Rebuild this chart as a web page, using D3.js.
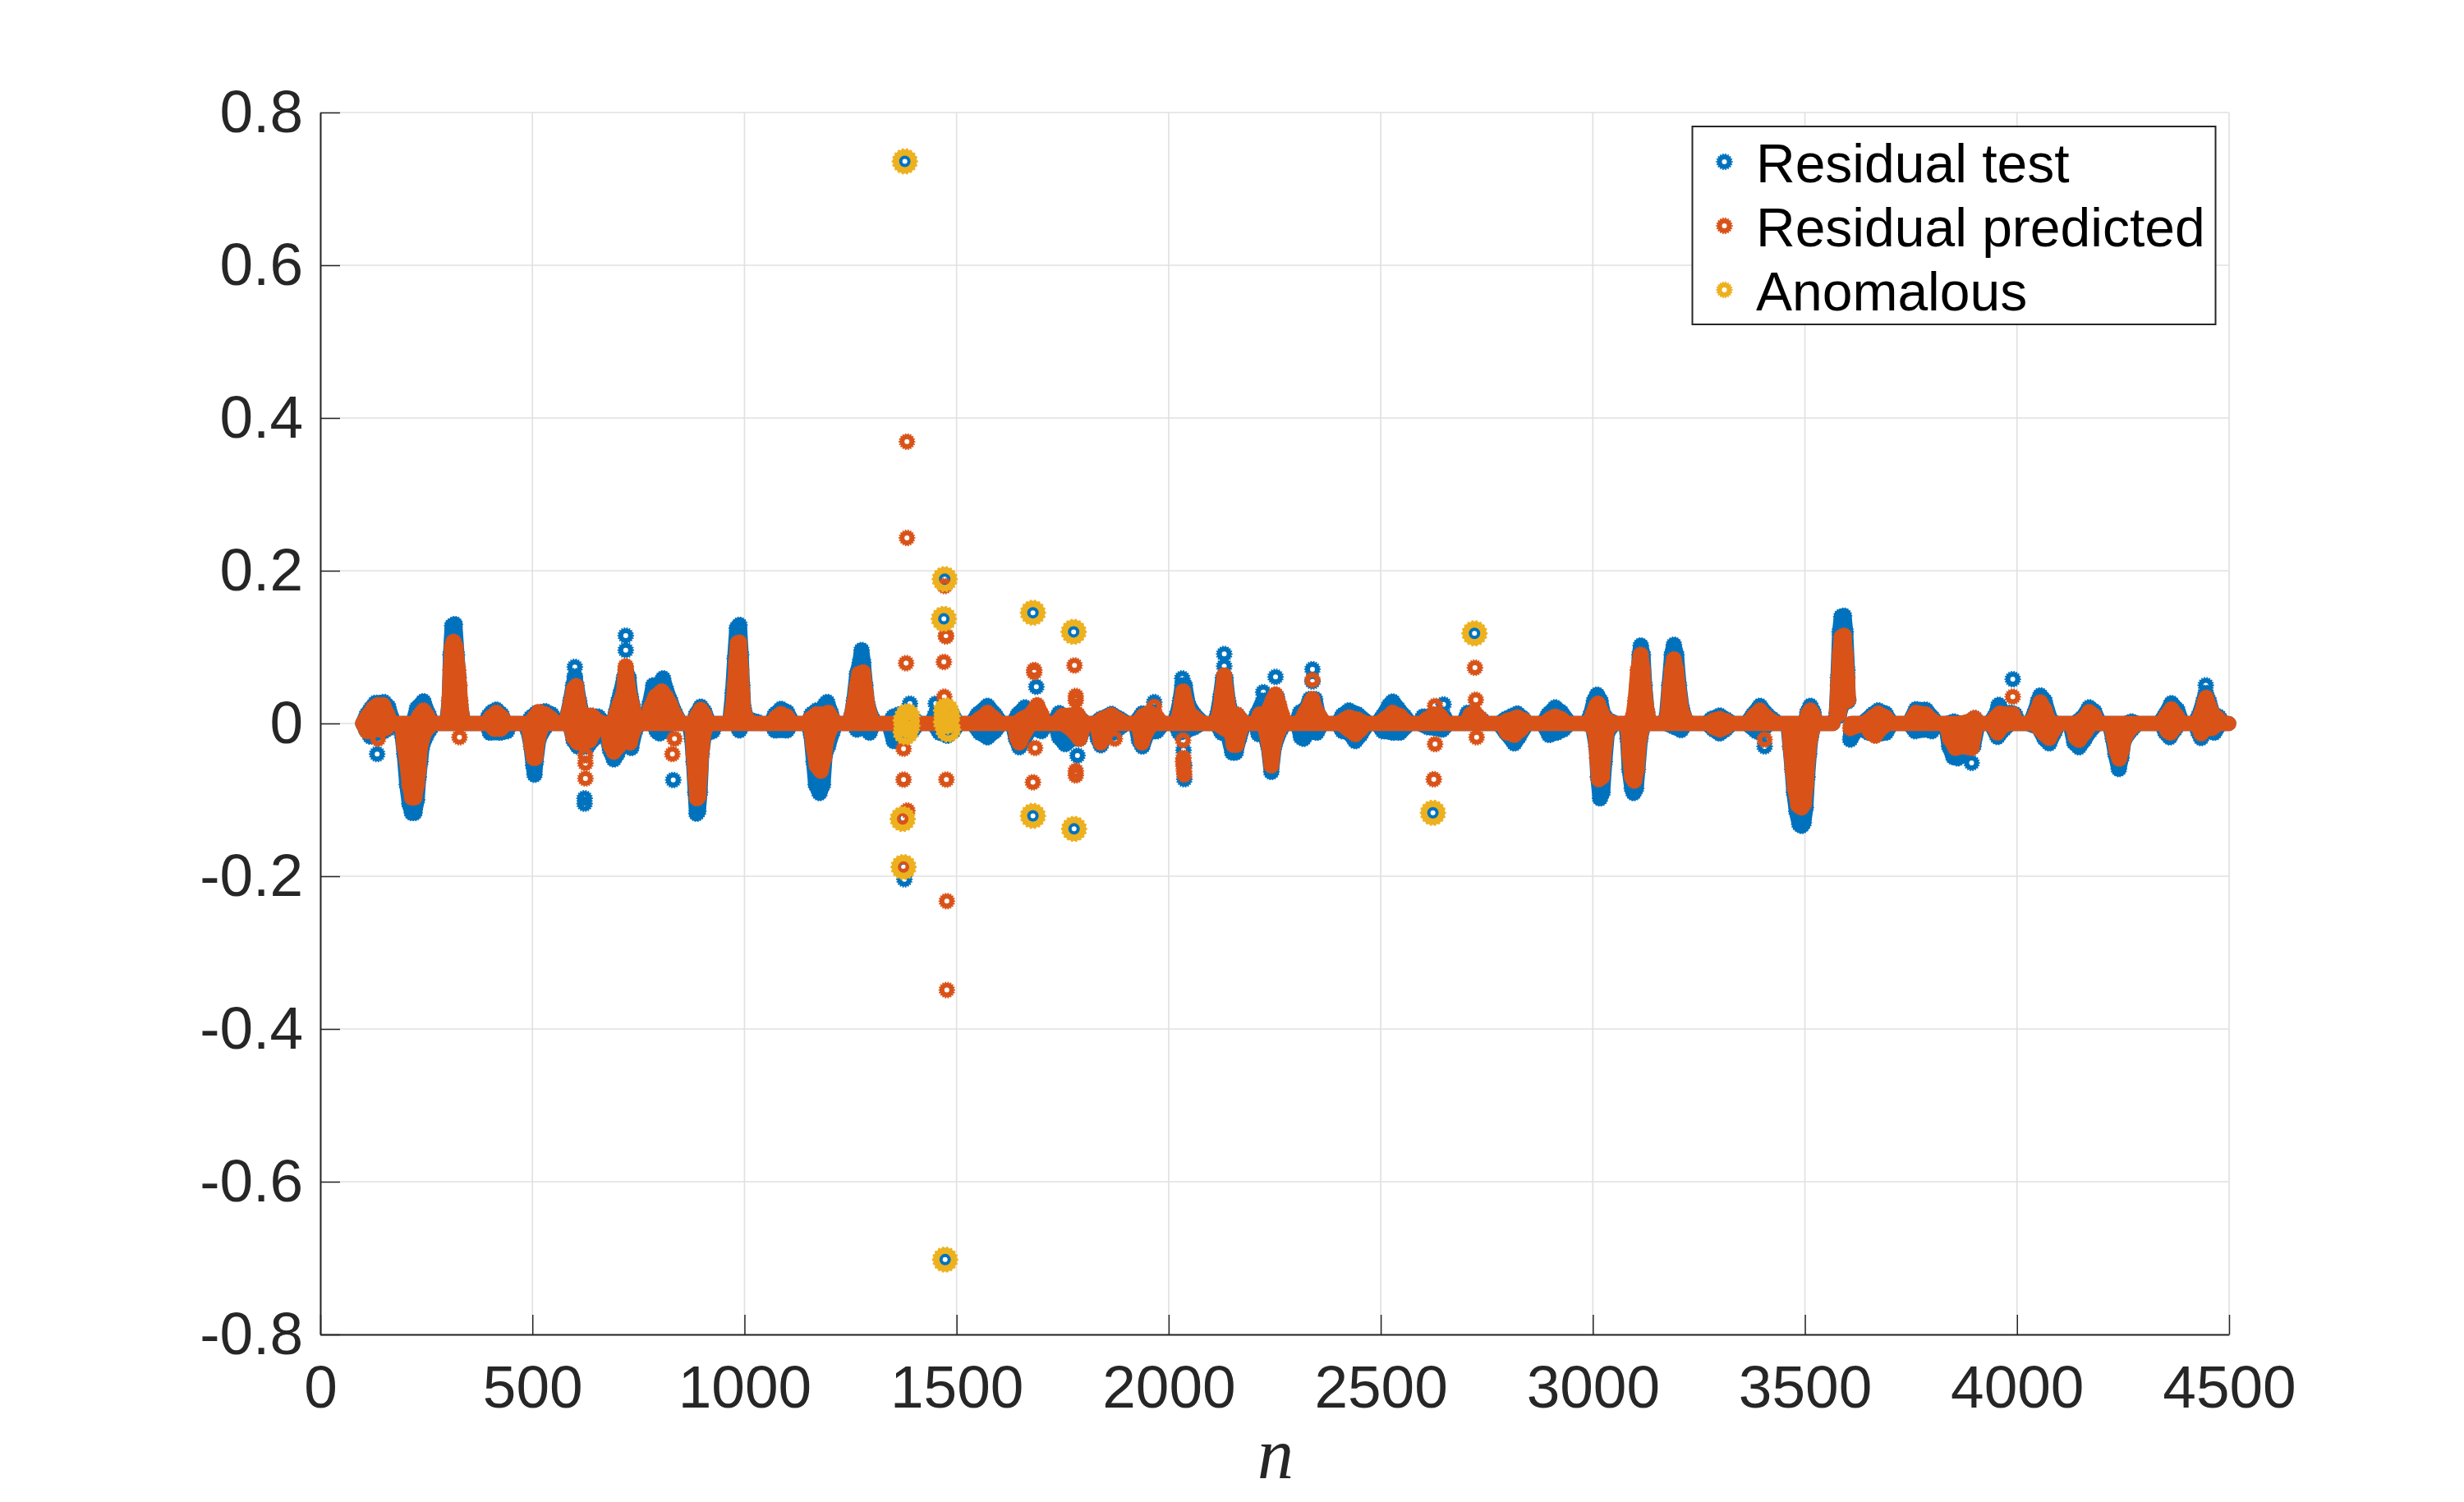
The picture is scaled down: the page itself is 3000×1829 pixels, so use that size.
<!DOCTYPE html>
<html>
<head>
<meta charset="utf-8">
<script src="https://cdn.jsdelivr.net/npm/d3@7"></script>
<style>
    html, body { margin: 0; padding: 0; background: #fff; }
    svg { display: block; }
</style>
</head>
<body>
<div id="chart"></div>
<script>
var xTicks = [0, 500, 1000, 1500, 2000, 2500, 3000, 3500, 4000, 4500];
var yTicks = [-0.8, -0.6, -0.4, -0.2, 0, 0.2, 0.4, 0.6, 0.8];
var yLabels = ["-0.8", "-0.6", "-0.4", "-0.2", "0", "0.2", "0.4", "0.6", "0.8"];
var legendLabels = ["Residual test", "Residual predicted", "Anomalous"];
var colors = ["#0072BD", "#D95319", "#EDB120"];

// Envelope of the dense residual test cloud, [n, value]
var testUpper = [[100,0],[110,.012],[120,.02],[130,.027],[150,.028],[160,.022],[170,.005],[178,0],
    [218,0],[228,.02],[243,.029],[255,.012],[265,0],
    [298,0],[304,.03],[307,.09],[311,.128],[317,.13],[322,.09],[326,.06],[330,.025],[338,0],
    [388,0],[397,.01],[405,.015],[415,.018],[427,.012],[437,0],
    [488,0],[497,.008],[510,.014],[530,.016],[545,.012],[557,0],
    [575,0],[582,.01],[590,.03],[596,.05],[600,.06],[604,.05],[610,.03],[618,.01],[640,.01],[655,.009],[670,0],
    [690,0],[697,.015],[703,.03],[708,.04],[716,.06],[720,.07],[727,.06],[732,.035],[742,.012],[750,0],
    [770,0],[776,.025],[785,.05],[795,.045],[808,.059],[815,.045],[825,.03],[835,.015],[850,0],
    [880,0],[886,.012],[897,.022],[905,.016],[917,0],
    [958,0],[966,.005],[972,.04],[977,.085],[982,.125],[988,.129],[992,.09],[995,.05],[998,.02],[1005,.007],[1030,.002],[1040,0],
    [1062,0],[1072,.012],[1086,.019],[1100,.015],[1115,0],
    [1150,0],[1158,.012],[1170,.017],[1180,.014],[1190,.025],[1195,.028],[1203,.015],[1212,0],
    [1245,0],[1252,.01],[1258,.03],[1265,.065],[1272,.08],[1276,.096],[1280,.08],[1285,.05],[1290,.025],[1300,.008],[1310,0],
    [1340,0],[1351,.009],[1365,.012],[1385,.012],[1400,.005],[1413,0],
    [1440,0],[1450,.012],[1470,.014],[1490,.012],[1503,0],
    [1535,0],[1550,.012],[1573,.023],[1590,.012],[1606,0],
    [1632,0],[1645,.012],[1661,.021],[1680,.015],[1700,.01],[1710,0],
    [1728,0],[1742,.0135],[1760,.008],[1785,.01],[1805,0],
    [1825,0],[1840,.006],[1865,.0125],[1885,.006],[1904,0],
    [1920,0],[1938,.013],[1955,.012],[1966,.01],[1985,0],
    [2012,0],[2020,.012],[2027,.03],[2032,.05],[2038,.05],[2046,.025],[2060,.012],[2082,0],
    [2108,0],[2115,.012],[2122,.035],[2128,.06],[2134,.06],[2140,.03],[2148,.012],[2161,.0115],[2180,0],
    [2200,0],[2208,.012],[2223,.03],[2235,.025],[2245,.035],[2255,.035],[2265,.012],[2274,0],
    [2300,0],[2310,.0145],[2325,.02],[2333,.032],[2345,.032],[2352,.012],[2368,0],
    [2398,0],[2410,.011],[2425,.017],[2445,.012],[2472,0],
    [2491,0],[2505,.01],[2520,.024],[2528,.0287],[2540,.02],[2555,.01],[2570,0],
    [2590,0],[2600,.009],[2620,.009],[2635,.012],[2648,.01],[2660,0],
    [2694,0],[2705,.014],[2720,.012],[2738,.005],[2748,0],
    [2778,0],[2795,.006],[2810,.01],[2822,.013],[2835,.007],[2847,0],
    [2882,0],[2895,.012],[2911,.021],[2925,.015],[2946,0],
    [2985,0],[2995,.012],[3003,.03],[3010,.0376],[3018,.03],[3025,.012],[3035,.005],[3055,0],
    [3082,0],[3095,.004],[3100,.015],[3105,.05],[3110,.09],[3113,.102],[3118,.09],[3122,.05],[3128,.015],[3134,0],
    [3168,0],[3174,.01],[3180,.05],[3186,.09],[3191,.103],[3197,.09],[3203,.05],[3210,.02],[3218,.006],[3226,0],
    [3268,0],[3280,.006],[3299,.0104],[3315,.005],[3330,0],
    [3362,0],[3378,.012],[3394,.023],[3410,.012],[3425,.005],[3438,0],
    [3500,0],[3506,.015],[3513,.023],[3520,.015],[3526,0],[3566,0]];
var testLower = [[100,0],[108,-.008],[118,-.017],[135,-.012],[150,-.01],[162,-.006],[170,0],
    [188,0],[193,-.015],[198,-.04],[204,-.08],[210,-.105],[216,-.117],[222,-.117],[228,-.1],[232,-.07],[236,-.05],[240,-.03],[248,-.018],[258,-.008],[268,0],
    [392,0],[400,-.012],[425,-.012],[440,-.01],[448,0],
    [480,0],[490,-.01],[497,-.03],[502,-.055],[505,-.067],[508,-.05],[515,-.02],[530,-.005],[540,0],
    [585,0],[590,-.005],[597,-.022],[607,-.03],[618,-.03],[630,-.03],[645,-.02],[655,-.005],[670,0],
    [668,0],[675,-.015],[683,-.035],[692,-.047],[700,-.04],[712,-.022],[725,-.025],[733,-.032],[742,-.01],[750,0],
    [785,0],[793,-.01],[800,-.013],[815,-.008],[825,0],
    [870,0],[876,-.02],[880,-.05],[884,-.09],[887,-.118],[891,-.115],[895,-.09],[899,-.04],[905,-.015],[925,-.01],[932,0],
    [978,0],[988,-.009],[998,0],
    [1062,0],[1072,-.009],[1100,-.009],[1112,0],
    [1150,0],[1157,-.015],[1163,-.05],[1168,-.08],[1177,-.091],[1185,-.08],[1190,-.04],[1197,-.03],[1207,-.012],[1215,0],
    [1258,0],[1265,-.008],[1280,-.004],[1295,-.012],[1305,0],
    [1340,0],[1352,-.023],[1370,-.015],[1395,-.01],[1410,0],
    [1445,0],[1460,-.012],[1478,-.016],[1492,-.01],[1505,0],
    [1538,0],[1555,-.012],[1573,-.018],[1590,-.01],[1605,0],
    [1632,0],[1640,-.02],[1648,-.031],[1660,-.02],[1675,-.005],[1700,-.01],[1712,0],
    [1732,0],[1742,-.018],[1756,-.027],[1772,-.02],[1790,-.02],[1805,0],
    [1825,0],[1833,-.02],[1840,-.0285],[1852,-.015],[1870,-.012],[1885,-.005],[1900,0],
    [1922,0],[1930,-.022],[1938,-.03],[1950,-.012],[1972,-.01],[1988,0],
    [2014,0],[2025,-.012],[2040,-.01],[2060,-.005],[2078,0],
    [2112,0],[2125,-.012],[2140,-.015],[2150,-.038],[2158,-.038],[2166,-.02],[2178,0],
    [2205,0],[2212,-.014],[2225,-.012],[2235,-.03],[2242,-.0634],[2249,-.03],[2262,-.01],[2274,0],
    [2304,0],[2312,-.018],[2318,-.02],[2330,-.01],[2349,-.012],[2362,0],
    [2398,0],[2410,-.01],[2425,-.012],[2440,-.023],[2452,-.015],[2470,0],
    [2491,0],[2505,-.01],[2528,-.012],[2545,-.012],[2568,0],
    [2590,0],[2612,-.005],[2645,-.008],[2660,0],
    [2778,0],[2795,-.012],[2815,-.026],[2825,-.018],[2845,0],
    [2882,0],[2897,-.015],[2915,-.012],[2930,-.008],[2946,0],
    [2985,0],[3000,-.005],[3008,-.03],[3012,-.07],[3017,-.098],[3023,-.09],[3028,-.05],[3034,-.012],[3050,0],
    [3078,0],[3082,-.02],[3086,-.06],[3092,-.085],[3096,-.091],[3102,-.085],[3106,-.06],[3112,-.02],[3118,-.005],[3128,0],
    [3172,0],[3190,-.004],[3208,-.0086],[3220,0],
    [3268,0],[3285,-.008],[3299,-.013],[3312,-.008],[3328,0],
    [3362,0],[3385,-.01],[3395,-.012],[3415,0],
    [3460,0],[3465,-.03],[3470,-.06],[3474,-.09],[3480,-.115],[3487,-.132],[3492,-.134],[3497,-.13],[3502,-.11],[3506,-.07],[3510,-.04],[3514,-.018],[3520,-.005],[3530,0],[3566,0]];
var testUpperEnd = [[3609,0],[3635,0],[3660,.012],[3673,.017],[3690,.013],[3705,0],
    [3745,0],[3762,.0186],[3785,.018],[3800,.008],[3812,0],
    [3832,0],[3851,.0025],[3870,0],[3885,.002],[3900,.007],[3912,0],
    [3935,0],[3950,.012],[3957,.024],[3970,.012],[3985,.014],[3995,.012],[4005,0],
    [4030,0],[4042,.015],[4050,.03],[4055,.0366],[4065,.03],[4078,.006],[4090,0],
    [4135,0],[4155,.008],[4170,.021],[4182,.016],[4195,0],
    [4255,0],[4270,.0025],[4285,0],
    [4335,0],[4350,.012],[4364,.0265],[4378,.018],[4390,0],
    [4418,0],[4430,.012],[4440,.03],[4445,.04],[4452,.03],[4462,.012],[4475,.009],[4488,0],[4499,0]];
var testLowerEnd = [[3609,0],[3607,-.021],[3625,-.005],[3650,-.012],[3666,-.015],[3691,-.012],[3705,0],
    [3745,0],[3760,-.01],[3785,-.008],[3799,-.01],[3812,0],
    [3832,0],[3840,-.03],[3850,-.044],[3860,-.0455],[3875,-.04],[3885,-.035],[3897,-.03],[3908,0],
    [3938,0],[3954,-.0175],[3968,-.008],[3985,0],
    [4025,0],[4050,-.005],[4065,-.02],[4076,-.026],[4088,-.012],[4098,0],
    [4125,0],[4135,-.025],[4146,-.031],[4158,-.022],[4172,-.01],[4190,0],
    [4218,0],[4226,-.02],[4232,-.04],[4240,-.0595],[4246,-.045],[4252,-.022],[4270,-.008],[4285,0],
    [4340,0],[4350,-.012],[4360,-.018],[4372,-.008],[4382,0],
    [4420,0],[4428,-.012],[4434,-.019],[4445,-.008],[4465,-.012],[4480,0],[4499,0]];

// The isolated column between the two band pieces around n = 3590
var testSpike = [[3574,.01],[3578,.06],[3582,.12],[3586,.14],[3592,.141],[3596,.12],[3600,.07],[3602,.03],[3600,.029],[3590,.03],[3580,.01]];
var predSpike = [[3575,.015],[3578,.05],[3582,.09],[3586,.113],[3592,.115],[3596,.09],[3600,.06],[3602,.032],[3600,.03],[3590,.04],[3580,.012]];

// Envelope of the dense residual predicted cloud, [n, value]
var predUpper = [[100,0],[112,.01],[125,.02],[135,.024],[148,.024],[158,.012],[168,0],
    [225,0],[233,.01],[243,.017],[252,.01],[262,0],
    [300,0],[304,.03],[307,.07],[310,.1],[314,.107],[319,.1],[325,.07],[328,.05],[330,.03],[336,0],
    [392,0],[402,.008],[415,.014],[428,.008],[435,0],
    [495,0],[505,.008],[515,.015],[530,.012],[545,.006],[552,0],
    [578,0],[580,.005],[590,.025],[597,.045],[603,.049],[608,.03],[615,.012],[640,.01],[650,.005],[665,0],
    [690,0],[697,.012],[705,.025],[715,.04],[720,.075],[725,.05],[732,.03],[742,.012],[748,0],
    [770,0],[778,.02],[790,.035],[805,.042],[815,.035],[825,.025],[835,.012],[850,0],
    [880,0],[888,.01],[897,.018],[905,.012],[915,0],
    [965,0],[972,.02],[977,.05],[980,.08],[984,.105],[988,.106],[992,.07],[995,.04],[998,.015],[1010,.003],[1025,0],
    [1065,0],[1075,.008],[1086,.0125],[1100,.009],[1112,0],
    [1152,0],[1155,.006],[1170,.012],[1185,.012],[1198,.014],[1207,.006],[1215,0],
    [1248,0],[1250,.005],[1258,.025],[1265,.05],[1270,.065],[1280,.067],[1286,.04],[1292,.018],[1300,.005],[1307,0],
    [1540,0],[1555,.006],[1573,.014],[1590,.006],[1600,0],
    [1640,0],[1655,.006],[1675,.012],[1690,.024],[1700,.012],[1708,0],
    [1732,0],[1750,.01],[1785,.012],[1800,0],
    [1828,0],[1845,.006],[1865,.011],[1885,.004],[1898,0],
    [1925,0],[1940,.01],[1955,.014],[1970,.01],[1985,0],
    [2018,0],[2025,.012],[2030,.028],[2034,.042],[2040,.028],[2048,.014],[2060,.008],[2080,0],
    [2112,0],[2120,.015],[2126,.04],[2131,.063],[2136,.04],[2144,.012],[2161,.0115],[2178,0],
    [2205,0],[2215,.012],[2230,.012],[2245,.03],[2252,.038],[2260,.025],[2268,.01],[2274,0],
    [2308,0],[2320,.012],[2335,.028],[2339,.032],[2345,.02],[2355,.01],[2368,0],
    [2400,0],[2415,.005],[2425,.008],[2445,.005],[2465,0],
    [2495,0],[2510,.006],[2528,.014],[2545,.01],[2565,0],
    [2595,0],[2610,.006],[2628,.012],[2640,.01],[2655,0],
    [2700,0],[2712,.012],[2722,.014],[2732,.008],[2745,0],
    [2785,0],[2800,.004],[2822,.008],[2838,.004],[2845,0],
    [2885,0],[2900,.006],[2911,.009],[2925,.006],[2940,0],
    [2990,0],[3000,.012],[3007,.022],[3012,.026],[3020,.015],[3028,.005],[3035,.004],[3050,0],
    [3086,0],[3095,.01],[3100,.03],[3106,.07],[3113,.09],[3118,.07],[3122,.04],[3128,.015],[3134,0],
    [3172,0],[3176,.01],[3180,.04],[3186,.07],[3191,.084],[3197,.07],[3203,.04],[3210,.015],[3218,.006],[3226,0],
    [3275,0],[3285,.004],[3299,.006],[3315,.003],[3325,0],
    [3365,0],[3380,.01],[3394,.017],[3410,.008],[3422,.003],[3436,0],
    [3502,0],[3507,.012],[3513,.017],[3519,.012],[3524,0],[3566,0]];
var predLower = [[100,0],[110,-.01],[125,-.008],[140,-.008],[155,-.006],[165,0],
    [192,0],[198,-.03],[204,-.05],[210,-.08],[216,-.097],[222,-.097],[228,-.08],[232,-.06],[236,-.03],[245,-.012],[255,-.005],[265,0],
    [398,0],[410,-.007],[425,-.007],[438,0],
    [490,0],[498,-.03],[503,-.045],[507,-.045],[513,-.02],[525,0],
    [588,0],[597,-.018],[607,-.025],[620,-.025],[635,-.022],[645,-.012],[655,0],
    [675,0],[683,-.028],[692,-.037],[703,-.03],[715,-.018],[730,-.025],[738,-.01],[748,0],
    [876,0],[880,-.04],[884,-.07],[888,-.098],[892,-.095],[896,-.06],[900,-.03],[905,-.01],[915,0],
    [1155,0],[1162,-.03],[1170,-.055],[1180,-.062],[1188,-.045],[1192,-.025],[1200,-.01],[1210,0],
    [1636,0],[1642,-.018],[1648,-.025],[1660,-.012],[1675,0],
    [1750,0],[1772,-.008],[1790,-.02],[1802,0],
    [1830,0],[1840,-.025],[1852,-.012],[1868,0],
    [1928,0],[1937,-.025],[1950,-.008],[1962,0],
    [2112,0],[2130,-.006],[2148,-.012],[2153,-.028],[2160,-.028],[2168,-.01],[2176,0],
    [2225,0],[2235,-.025],[2242,-.055],[2249,-.025],[2262,-.006],[2272,0],
    [2405,0],[2425,-.008],[2440,-.014],[2452,-.008],[2465,0],
    [2785,0],[2798,-.012],[2815,-.015],[2830,-.008],[2842,0],
    [2990,0],[3005,-.01],[3010,-.045],[3014,-.073],[3022,-.07],[3028,-.03],[3034,-.008],[3045,0],
    [3082,0],[3086,-.04],[3092,-.07],[3098,-.075],[3104,-.06],[3110,-.02],[3118,-.004],[3125,0],
    [3275,0],[3285,-.005],[3299,-.008],[3312,-.005],[3325,0],
    [3462,0],[3466,-.03],[3471,-.06],[3476,-.085],[3484,-.107],[3492,-.11],[3498,-.105],[3503,-.08],[3508,-.04],[3513,-.018],[3520,-.004],[3528,0],[3566,0]];
var predUpperEnd = [[3609,0],[3640,0],[3660,.008],[3673,.013],[3690,.008],[3703,0],
    [3745,0],[3762,.014],[3785,.012],[3800,.004],[3810,0],
    [3838,0],[3860,0],[3885,.002],[3900,.007],[3910,0],
    [3938,0],[3950,.008],[3960,.013],[3975,.012],[3990,.012],[4000,0],
    [4032,0],[4045,.014],[4055,.0276],[4065,.018],[4078,0],
    [4140,0],[4158,.006],[4170,.015],[4182,.01],[4192,0],
    [4340,0],[4352,.01],[4364,.0186],[4376,.01],[4388,0],
    [4422,0],[4434,.012],[4442,.028],[4446,.0337],[4452,.024],[4462,.012],[4475,.006],[4485,0],[4499,0]];
var predLowerEnd = [[3609,0],[3607,-.006],[3640,0],[3655,-.012],[3666,-.016],[3680,-.006],[3695,0],
    [3832,0],[3842,-.02],[3855,-.032],[3870,-.03],[3893,-.032],[3905,0],
    [3940,0],[3954,-.012],[3965,-.004],[3980,0],
    [4040,0],[4065,-.014],[4076,-.019],[4087,-.008],[4096,0],
    [4130,0],[4138,-.018],[4146,-.0215],[4160,-.012],[4175,0],
    [4220,0],[4228,-.018],[4234,-.035],[4241,-.046],[4247,-.035],[4254,-.018],[4270,-.005],[4285,0],
    [4345,0],[4355,-.01],[4362,-.012],[4372,-.005],[4382,0],
    [4424,0],[4434,-.013],[4445,-.006],[4460,-.006],[4475,0],[4499,0]];

// Points that stand alone outside the clouds
var testPoints = [[134,-.04],[720,.115],[720,.096],[600,.074],[600,.062],[623,-.098],[623,-.105],[832,-.074],
    [1378,.736],[1473,-.702],[1472,.189],[1470,.137],[1374,-.124],[1375,-.188],[1377,-.204],[1390,.026],[1451,.026],
    [1680,.145],[1776,.12],[1680,-.121],[1777,-.138],[1688,.048],[1785,-.042],[2721,.118],[2623,-.117],[2648,.025],
    [1966,.028],[2032,.059],[2035,-.035],[2037,-.073],[2037,-.055],[2131,.091],[2131,.075],[2223,.041],[2252,.061],[2242,-.048],
    [2339,.071],[2339,.055],[3893,-.0516],[3990,.058],[3405,-.03],[4445,.05],[3957,.024]];
var predPoints = [[136,-.02],[328,-.018],[1383,.369],[1383,.243],[1381,.079],[1470,.0806],[1475,.114],[1475,.115],[1472,.18],[1471,.035],
    [1375,-.0735],[1476,-.0735],[1477,-.349],[1477,-.2326],[1375,-.033],[1372,-.124],[1384,-.114],[1374,-.187],
    [625,-.042],[625,-.052],[625,-.072],[720,.071],[720,.059],[835,-.02],[830,-.04],
    [1683,.07],[1683,.067],[1778,.076],[1680,-.077],[1781,.036],[1781,.03],[1781,-.062],[1781,-.068],[1685,-.032],
    [1873,-.02],[2722,.073],[2724,.031],[2726,-.018],[2625,-.073],[2628,-.027],[2628,.023],[1966,.022],
    [2034,-.022],[2035,-.045],[2034,-.05],[2035,-.056],[2036,-.062],[2037,-.067],[2131,.05],[2242,-.036],[2242,-.045],[2339,.057],
    [3105,.029],[3405,-.021],[3990,.035],[3990,.01]];
var anomalousPoints = [[1378,.736],[1473,-.702],[1472,.189],[1470,.137],[1373,-.125],[1375,-.188],
    [1680,.145],[1776,.12],[1680,-.121],[1777,-.138],[2721,.118],[2623,-.117],
    [1384,.0095],[1380,.004],[1384,-.003],[1380,-.0115],
    [1475,.017],[1479,.01],[1475,.002],[1480,-.008]];

var width = 3000, height = 1829;
var left = 390, right = 2714, top_ = 137, bottom = 1625;
var ink = "#262626", gridColor = "#e0e0e0";
var fontSans = "'Liberation Sans', Arial, sans-serif";

var x = d3.scaleLinear().domain([0, 4500]).range([left, right]);
var y = d3.scaleLinear().domain([-0.8, 0.8]).range([bottom, top_]);

var svg = d3.select("#chart").append("svg").attr("width", width).attr("height", height);

// Ring marker with little teeth, like the rasterised MATLAB circles
function gear(outer, hole) {
    return {
        draw: function (context) {
            var teeth = 18, inner = outer - 1.3;
            for (var i = 0; i < teeth; i++) {
                var a = i / teeth * 2 * Math.PI, s = Math.PI / teeth;
                var pts = [[outer, a - s * 0.5], [outer, a + s * 0.5], [inner, a + s * 0.5], [inner, a + s * 1.5]];
                pts.forEach(function (p, j) {
                    var px = p[0] * Math.cos(p[1]), py = p[0] * Math.sin(p[1]);
                    if (i == 0 && j == 0) context.moveTo(px, py); else context.lineTo(px, py);
                });
            }
            context.closePath();
            context.moveTo(hole, 0);
            context.arc(0, 0, hole, 0, 2 * Math.PI);
            context.closePath();
        }
    };
}
var smallRing = d3.symbol().type(gear(10.2, 3));
var bigRing = d3.symbol().type(gear(16, 7));
var legendRing = d3.symbol().type(gear(10.2, 3));

// Grid
var grid = svg.append("g").attr("class", "grid");
grid.selectAll(".gx").data(xTicks).join("line")
    .attr("class", "gx")
    .attr("x1", function (d) { return x(d); }).attr("x2", function (d) { return x(d); })
    .attr("y1", top_).attr("y2", bottom);
grid.selectAll(".gy").data(yTicks).join("line")
    .attr("class", "gy")
    .attr("x1", left).attr("x2", right)
    .attr("y1", function (d) { return y(d); }).attr("y2", function (d) { return y(d); });
grid.selectAll("line").attr("stroke", gridColor).attr("stroke-width", 1.6);

var outline = d3.line().x(function (d) { return x(d[0]); }).y(function (d) { return y(d[1]); }).curve(d3.curveLinearClosed);

function drawSeries(pieces, points, color) {
    var g = svg.append("g");
    pieces.forEach(function (piece) {
        g.append("path")
            .attr("d", outline(piece))
            .attr("fill", color)
            .attr("stroke", color)
            .attr("stroke-width", 18.6)
            .attr("stroke-linejoin", "round");
    });
    // Markers on the envelope give the cloud its toothed edge
    var edge = d3.merge(pieces).filter(function (d) { return d[1] != 0; });
    g.selectAll(".edge").data(edge).join("path")
        .attr("class", "edge")
        .attr("transform", function (d) { return "translate(" + x(d[0]) + "," + y(d[1]) + ")"; })
        .attr("d", smallRing())
        .attr("fill", color);
    g.selectAll(".point").data(points).join("path")
        .attr("class", "point")
        .attr("transform", function (d) { return "translate(" + x(d[0]) + "," + y(d[1]) + ")"; })
        .attr("d", smallRing())
        .attr("fill", color)
        .attr("fill-rule", "evenodd");
}

function closeUp(upper, lower) {
    return upper.concat(lower.slice().reverse());
}

drawSeries([closeUp(testUpper, testLower), closeUp(testUpperEnd, testLowerEnd), testSpike], testPoints, colors[0]);
drawSeries([closeUp(predUpper, predLower), closeUp(predUpperEnd, predLowerEnd), predSpike], predPoints, colors[1]);

svg.append("g").selectAll("path").data(anomalousPoints).join("path")
    .attr("transform", function (d) { return "translate(" + x(d[0]) + "," + y(d[1]) + ")"; })
    .attr("d", bigRing())
    .attr("fill", colors[2])
    .attr("fill-rule", "evenodd");

// Axes
var xAxis = d3.axisBottom(x).tickValues(xTicks).tickFormat(d3.format("d")).tickSizeInner(-24).tickSizeOuter(0).tickPadding(37);
var yAxis = d3.axisLeft(y).tickValues(yTicks)
    .tickFormat(function (d, i) { return yLabels[i]; }).tickSizeInner(-24).tickSizeOuter(0).tickPadding(21);

svg.append("g").attr("transform", "translate(0," + bottom + ")").call(xAxis);
svg.append("g").attr("transform", "translate(" + left + ",0)").call(yAxis);
svg.selectAll(".domain").attr("stroke", ink).attr("stroke-width", 2);
svg.selectAll(".tick line").attr("stroke", ink).attr("stroke-width", 1.5);
svg.selectAll(".tick text").attr("fill", ink).style("font-family", fontSans).style("font-size", "73px");

// x label
svg.append("text")
    .attr("x", 1553).attr("y", 1800)
    .attr("text-anchor", "middle")
    .style("font-family", "'Liberation Serif', serif")
    .style("font-style", "italic")
    .style("font-size", "88px")
    .attr("fill", ink)
    .text("n");

// Legend
var legend = svg.append("g");
legend.append("rect")
    .attr("x", 2060.5).attr("y", 154).attr("width", 637).attr("height", 241)
    .attr("fill", "#fff").attr("stroke", ink).attr("stroke-width", 2);
var rows = legend.selectAll(".row").data(legendLabels).join("g")
    .attr("transform", function (d, i) { return "translate(0," + (197 + i * 78) + ")"; });
rows.append("path")
    .attr("transform", "translate(2099.5,0)")
    .attr("d", function (d, i) { return i == 2 ? legendRing() : smallRing(); })
    .attr("fill", function (d, i) { return colors[i]; })
    .attr("fill-rule", "evenodd");
rows.append("text")
    .attr("x", 2138).attr("y", 25)
    .attr("fill", "#000")
    .style("font-family", fontSans)
    .style("font-size", "66px")
    .text(function (d) { return d; });
</script>
</body>
</html>
